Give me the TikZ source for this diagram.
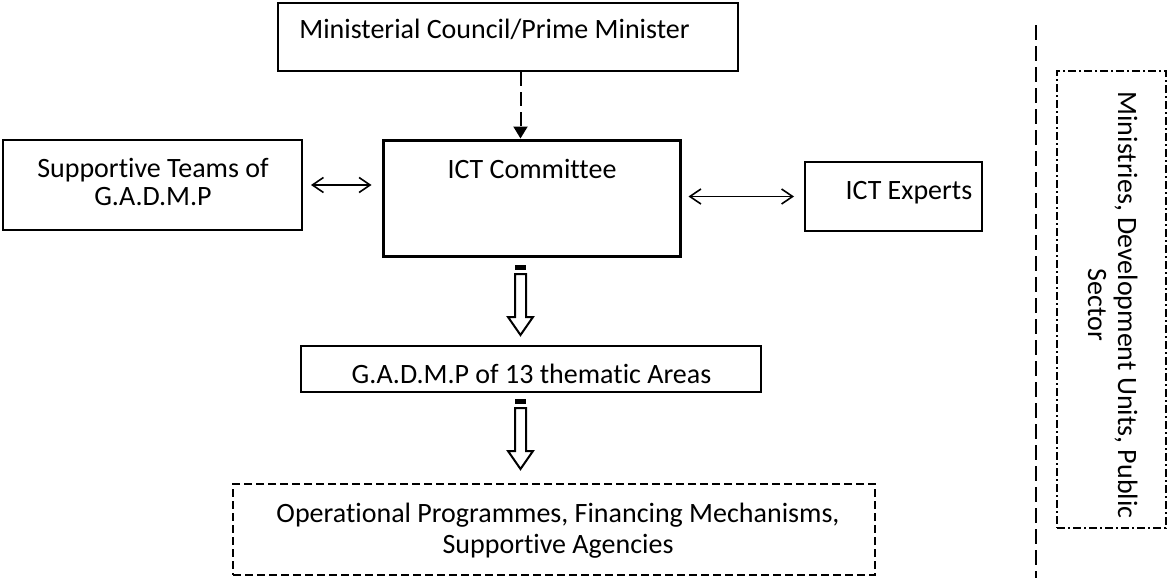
\documentclass[tikz,border=0pt]{standalone}
\usepackage{fontspec}
\setmainfont{Carlito}[Ligatures=NoCommon]
\usetikzlibrary{arrows.meta,calc}
\begin{document}
\begin{tikzpicture}[x=0.5pt,y=-0.5pt,
  every node/.style={font=\fontsize{14}{14}\selectfont, inner sep=0pt},
  box/.style={draw, line width=1pt, rectangle, inner sep=0pt},
  lbl/.style={anchor=base, align=center},
  dbl/.style={{Straight Barb[length=5.5pt,width=7.5pt]}-{Straight Barb[length=5.5pt,width=7.5pt]}, line width=0.8pt},
  stripedarrow/.pic={
    \fill (-5.5,0) rectangle (5.5,5);
    \draw[line width=1pt, line join=miter] (-5.5,9) -- (-5.5,52) -- (-12.5,52) -- (0,70) -- (12.5,52) -- (5.5,52) -- (5.5,9) -- cycle;
  }
]
\useasboundingbox (0,0) rectangle (1169,578);
\coordinate (ax) at (520.5,0);
% boxes
\node[box, minimum width=230pt, minimum height=34pt] (pm) at (508,37) {};
\node[lbl] (pmT) at (494.5,39) {Ministerial Council/Prime Minister};
\node[box, line width=1.5pt, minimum width=148.5pt, minimum height=58pt] (ict) at (531.5,198) {};
\node[lbl] (ictT) at (532,178) {ICT Committee};
\node[box, minimum width=149.5pt, minimum height=45pt] (supp) at (152.5,185) {};
\node[lbl, font=\fontsize{14}{13.5}\selectfont] (suppT) at (153,205) {Supportive Teams of\\G.A.D.M.P};
\node[box, minimum width=88.5pt, minimum height=34.5pt] (exp) at (893.5,196.5) {};
\node[lbl] (expT) at (909,199) {ICT Experts};
\node[box, minimum width=230pt, minimum height=23pt] (gad) at (531,369) {};
\node[lbl] (gadT) at (531.5,383) {G.A.D.M.P of 13 thematic Areas};
\node[box, dash pattern=on 4pt off 2pt, minimum width=321pt, minimum height=45.5pt] (ops) at (554,529.5) {};
\node[lbl, font=\fontsize{14}{15.5}\selectfont] (opsT) at (558,553) {Operational Programmes, Financing Mechanisms,\\Supportive Agencies};
\node[box, dash pattern=on 4pt off 1.5pt on 1pt off 1.5pt, minimum width=54.5pt, minimum height=228.5pt] (sec) at (1111.5,299.5) {};
\node[lbl, rotate=-90, font=\fontsize{14}{15}\selectfont] (secT) at (1088,305) {Ministries, Development Units, Public\\Sector};
% connectors
\draw[line width=1pt, dash pattern=on 7pt off 3pt, -{Triangle[length=6pt,width=7pt]}] (pm.south -| ax) -- (ict.north -| ax);
\draw[dbl, shorten <=4pt, shorten >=5pt] (supp.east) -- (supp.east -| ict.west);
\draw[dbl, shorten <=3.5pt, shorten >=5pt] (exp.west -| ict.east) -- (exp.west);
\pic at ($(ict.south -| ax)+(0,7.5)$) {stripedarrow};
\pic at ($(gad.south -| ax)+(0,6)$) {stripedarrow};
% separator line
\coordinate (vtop) at (1036,25);
\coordinate (vbot) at (1036,578);
\draw[line width=1.2pt, dash pattern=on 7.5pt off 3pt] (vtop) -- (vbot);
\end{tikzpicture}
\end{document}
